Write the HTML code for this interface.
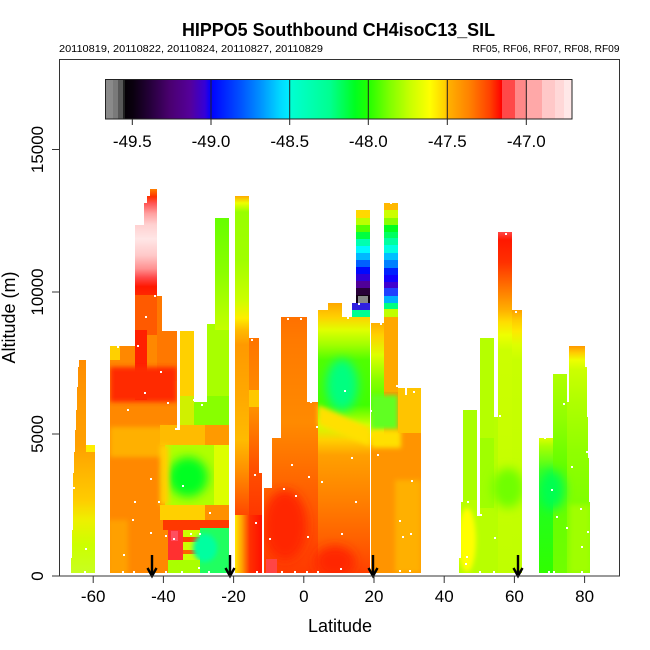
<!DOCTYPE html>
<html><head><meta charset="utf-8"><style>
html,body{margin:0;padding:0;background:#fff;}
svg{display:block;}
text{font-family:"Liberation Sans",Arial,sans-serif;fill:#000;}
</style></head><body>
<svg width="650" height="650" viewBox="0 0 650 650" xmlns="http://www.w3.org/2000/svg">
<defs>
<filter id="bl" x="-50%" y="-50%" width="200%" height="200%"><feGaussianBlur stdDeviation="5"/></filter>
<filter id="bs" x="-50%" y="-50%" width="200%" height="200%"><feGaussianBlur stdDeviation="2.5"/></filter>

<linearGradient id="cb" gradientUnits="userSpaceOnUse" x1="105" y1="0" x2="572" y2="0">
<stop offset="0" stop-color="#8a8a8a"/><stop offset=".0171" stop-color="#8a8a8a"/>
<stop offset=".0171" stop-color="#7a7a7a"/><stop offset=".0278" stop-color="#7a7a7a"/>
<stop offset=".0278" stop-color="#585858"/><stop offset=".0385" stop-color="#585858"/>
<stop offset=".0385" stop-color="#202020"/><stop offset=".0428" stop-color="#202020"/>
<stop offset=".0428" stop-color="#050005"/><stop offset=".0600" stop-color="#0a000f"/>
<stop offset=".0964" stop-color="#25003a"/><stop offset=".1392" stop-color="#4a0070"/>
<stop offset=".1820" stop-color="#55009a"/><stop offset=".2141" stop-color="#3500d8"/>
<stop offset=".2270" stop-color="#0000ff"/><stop offset=".2891" stop-color="#0050ff"/>
<stop offset=".3319" stop-color="#0090ff"/><stop offset=".3747" stop-color="#00d8ff"/>
<stop offset=".3955" stop-color="#00eeff"/><stop offset=".3955" stop-color="#00ffd4"/>
<stop offset=".4818" stop-color="#00ff90"/><stop offset=".5353" stop-color="#00ff20"/>
<stop offset=".5632" stop-color="#20ff00"/><stop offset=".6103" stop-color="#80ff00"/>
<stop offset=".6531" stop-color="#c8ff00"/><stop offset=".6959" stop-color="#ffff00"/>
<stop offset=".7281" stop-color="#ffd000"/><stop offset=".7323" stop-color="#ffb400"/>
<stop offset=".7816" stop-color="#ff8000"/><stop offset=".8244" stop-color="#ff4000"/>
<stop offset=".8501" stop-color="#ff0000"/><stop offset=".8501" stop-color="#ff4848"/>
<stop offset=".8779" stop-color="#ff4848"/><stop offset=".8779" stop-color="#ff8888"/>
<stop offset=".9036" stop-color="#ff8888"/><stop offset=".9036" stop-color="#ffa8a8"/>
<stop offset=".9358" stop-color="#ffa8a8"/><stop offset=".9358" stop-color="#ffc8c8"/>
<stop offset=".9636" stop-color="#ffc8c8"/><stop offset=".9636" stop-color="#ffd8d8"/>
<stop offset=".9829" stop-color="#ffd8d8"/><stop offset=".9829" stop-color="#ffe8e8"/>
<stop offset="1" stop-color="#ffe8e8"/>
</linearGradient>

<linearGradient id="g1" gradientUnits="userSpaceOnUse" x1="0" y1="360" x2="0" y2="573">
<stop offset="0" stop-color="#ff8c00"/><stop offset=".188" stop-color="#ff9800"/>
<stop offset=".399" stop-color="#ffa000"/><stop offset=".516" stop-color="#ffb400"/>
<stop offset=".657" stop-color="#ffcc00"/><stop offset=".751" stop-color="#eef000"/>
<stop offset=".869" stop-color="#ccff00"/><stop offset="1" stop-color="#c8ff20"/>
</linearGradient>

<linearGradient id="gPink" gradientUnits="userSpaceOnUse" x1="0" y1="189" x2="0" y2="300">
<stop offset="0" stop-color="#ff8000"/><stop offset=".07" stop-color="#ff3000"/>
<stop offset=".13" stop-color="#ff5555"/><stop offset=".22" stop-color="#ff9f9f"/>
<stop offset=".32" stop-color="#ffd0d0"/><stop offset=".45" stop-color="#ffe6e6"/>
<stop offset=".6" stop-color="#ffc8c8"/><stop offset=".72" stop-color="#ff9090"/>
<stop offset=".8" stop-color="#ff4848"/><stop offset=".88" stop-color="#ff1800"/>
<stop offset="1" stop-color="#ff3000"/>
</linearGradient>

<linearGradient id="gG2" gradientUnits="userSpaceOnUse" x1="0" y1="218" x2="0" y2="330">
<stop offset="0" stop-color="#66ff00"/><stop offset=".5" stop-color="#8cff00"/><stop offset="1" stop-color="#c4ff00"/>
</linearGradient>

<linearGradient id="g3a" gradientUnits="userSpaceOnUse" x1="0" y1="196" x2="0" y2="573">
<stop offset="0" stop-color="#ffaa00"/><stop offset=".0186" stop-color="#eeff00"/>
<stop offset=".0424" stop-color="#99ff00"/><stop offset=".17" stop-color="#a0ff00"/>
<stop offset=".276" stop-color="#ccff00"/><stop offset=".324" stop-color="#ffee00"/>
<stop offset=".355" stop-color="#ffbb00"/><stop offset=".395" stop-color="#ff9900"/>
<stop offset=".541" stop-color="#ffaa00"/><stop offset=".647" stop-color="#ffbb00"/>
<stop offset=".727" stop-color="#ff9000"/><stop offset=".806" stop-color="#ff6000"/>
<stop offset=".859" stop-color="#ff4000"/><stop offset="1" stop-color="#ff3000"/>
</linearGradient>
<linearGradient id="g3b" gradientUnits="userSpaceOnUse" x1="0" y1="338" x2="0" y2="573">
<stop offset="0" stop-color="#ff7400"/><stop offset=".3" stop-color="#ff9000"/><stop offset=".55" stop-color="#ff5000"/><stop offset="1" stop-color="#ff1800"/>
</linearGradient>
<linearGradient id="g3c" gradientUnits="userSpaceOnUse" x1="235" y1="0" x2="262" y2="0">
<stop offset="0" stop-color="#ffe800"/><stop offset=".26" stop-color="#ffa000"/><stop offset=".55" stop-color="#ff3000"/><stop offset="1" stop-color="#ff1000"/>
</linearGradient>

<linearGradient id="g4a" gradientUnits="userSpaceOnUse" x1="0" y1="300" x2="0" y2="573">
<stop offset="0" stop-color="#ff6a00"/><stop offset=".15" stop-color="#ff7a00"/>
<stop offset=".45" stop-color="#ff8a00"/><stop offset=".7" stop-color="#ff6000"/>
<stop offset="1" stop-color="#ff3a00"/>
</linearGradient>
<linearGradient id="g4b" gradientUnits="userSpaceOnUse" x1="0" y1="303" x2="0" y2="573">
<stop offset="0" stop-color="#ffa800"/><stop offset=".052" stop-color="#ffd000"/>
<stop offset=".1" stop-color="#e0ff00"/><stop offset=".156" stop-color="#a0ff00"/>
<stop offset=".211" stop-color="#50ff00"/><stop offset=".378" stop-color="#40ff00"/>
<stop offset=".452" stop-color="#ccff00"/><stop offset=".507" stop-color="#ffd000"/>
<stop offset=".563" stop-color="#ffa000"/><stop offset=".73" stop-color="#ff8000"/>
<stop offset=".878" stop-color="#ff6000"/><stop offset="1" stop-color="#ff4000"/>
</linearGradient>

<linearGradient id="g5a" gradientUnits="userSpaceOnUse" x1="0" y1="323" x2="0" y2="445">
<stop offset="0" stop-color="#ffb000"/><stop offset=".098" stop-color="#ffd000"/>
<stop offset=".262" stop-color="#ddff00"/><stop offset=".467" stop-color="#88ff00"/>
<stop offset=".672" stop-color="#50ff00"/><stop offset=".836" stop-color="#b0ff00"/>
<stop offset=".918" stop-color="#ffe800"/><stop offset="1" stop-color="#ffb000"/>
</linearGradient>

<linearGradient id="g6a" gradientUnits="userSpaceOnUse" x1="0" y1="232" x2="0" y2="573">
<stop offset="0" stop-color="#ff4848"/><stop offset=".023" stop-color="#ff1800"/>
<stop offset=".088" stop-color="#ff3000"/><stop offset=".141" stop-color="#ff6000"/>
<stop offset=".194" stop-color="#ff9000"/><stop offset=".229" stop-color="#ffb000"/>
<stop offset=".264" stop-color="#ffdd00"/><stop offset=".302" stop-color="#eeff00"/>
<stop offset=".346" stop-color="#ccff00"/><stop offset="1" stop-color="#c0ff00"/>
</linearGradient>
<linearGradient id="g6b" gradientUnits="userSpaceOnUse" x1="0" y1="310" x2="0" y2="573">
<stop offset="0" stop-color="#ffa000"/><stop offset=".04" stop-color="#ffcc00"/>
<stop offset=".08" stop-color="#ffe800"/><stop offset=".133" stop-color="#ddff00"/>
<stop offset=".19" stop-color="#c8ff00"/><stop offset="1" stop-color="#c0ff00"/>
</linearGradient>

<linearGradient id="g7a" gradientUnits="userSpaceOnUse" x1="0" y1="346" x2="0" y2="573">
<stop offset="0" stop-color="#ff9900"/><stop offset=".03" stop-color="#ffcc00"/>
<stop offset=".062" stop-color="#eeff00"/><stop offset=".106" stop-color="#ccff00"/>
<stop offset=".24" stop-color="#b0ff00"/><stop offset=".46" stop-color="#90ff00"/>
<stop offset=".68" stop-color="#80ff00"/><stop offset="1" stop-color="#8cff00"/>
</linearGradient>
<linearGradient id="g7b" gradientUnits="userSpaceOnUse" x1="0" y1="374" x2="0" y2="573">
<stop offset="0" stop-color="#b0ff00"/><stop offset=".23" stop-color="#90ff00"/><stop offset=".48" stop-color="#60ff00"/><stop offset="1" stop-color="#70ff00"/>
</linearGradient>
<linearGradient id="g7c" gradientUnits="userSpaceOnUse" x1="0" y1="438" x2="0" y2="573">
<stop offset="0" stop-color="#ddff00"/><stop offset=".06" stop-color="#aaff00"/><stop offset=".24" stop-color="#40ff20"/><stop offset=".46" stop-color="#20ff20"/><stop offset="1" stop-color="#30ff00"/>
</linearGradient>

<clipPath id="c1"><polygon points="79,360 86,360 86,445 95,445 95,573 71,573 71,558 72,558 72,530 73,530 73,473 74,473 74,452 75,452 75,430 76,430 76,410 77,410 77,387 78,387 78,367 79,367"/></clipPath>
<clipPath id="c2">
<rect x="110" y="346" width="25" height="227"/>
<rect x="135" y="225" width="9" height="348"/>
<rect x="144" y="203" width="3" height="370"/>
<rect x="147" y="196" width="3" height="377"/>
<rect x="150" y="189" width="7" height="384"/>
<rect x="157" y="296" width="5" height="277"/>
<rect x="162" y="331" width="15" height="242"/>
<rect x="177" y="430" width="3" height="143"/>
<rect x="180" y="331" width="14" height="242"/>
<rect x="194" y="402" width="13" height="171"/>
<rect x="207" y="324" width="8" height="249"/>
<rect x="215" y="218" width="14" height="355"/>
</clipPath>
<clipPath id="c3">
<rect x="235" y="196" width="14" height="377"/>
<rect x="249" y="338" width="10" height="235"/>
<rect x="259" y="473" width="3" height="100"/>
</clipPath>
<clipPath id="c4">
<rect x="264" y="488" width="8" height="85"/>
<rect x="272" y="438" width="9" height="135"/>
<rect x="281" y="317" width="26" height="256"/>
<rect x="307" y="402" width="11" height="171"/>
<rect x="318" y="310" width="10" height="263"/>
<rect x="328" y="303" width="14" height="270"/>
<rect x="342" y="317" width="10" height="256"/>
<rect x="352" y="303" width="4" height="270"/>
<rect x="356" y="210" width="14" height="363"/>
</clipPath>
<clipPath id="c5">
<rect x="371" y="323" width="13" height="250"/>
<rect x="384" y="203" width="14" height="370"/>
<rect x="398" y="388" width="7" height="185"/>
<rect x="405" y="395" width="2" height="178"/>
<rect x="407" y="388" width="14" height="185"/>
</clipPath>
<clipPath id="c6">
<rect x="463" y="410" width="14" height="163"/>
<rect x="461" y="502" width="2" height="71"/>
<rect x="459" y="558" width="2" height="15"/>
<rect x="477" y="516" width="3" height="57"/>
<rect x="480" y="338" width="14" height="235"/>
<rect x="494" y="417" width="4" height="156"/>
<rect x="498" y="232" width="14" height="341"/>
<rect x="512" y="310" width="10" height="263"/>
</clipPath>
<clipPath id="c7">
<rect x="539" y="438" width="14" height="135"/>
<rect x="553" y="374" width="14" height="199"/>
<rect x="567" y="402" width="2" height="171"/>
<rect x="569" y="346" width="16" height="227"/>
<rect x="585" y="367" width="2" height="206"/>
<rect x="587" y="417" width="1" height="156"/>
<rect x="588" y="458" width="1" height="115"/>
<rect x="589" y="502" width="1" height="71"/>
</clipPath>
</defs>

<rect width="650" height="650" fill="#fff"/>

<!-- Group 1 -->
<g clip-path="url(#c1)">
<rect x="70" y="355" width="30" height="220" fill="url(#g1)"/>
<rect x="86" y="445" width="9" height="7" fill="#ffee00"/>
</g>

<!-- Group 2 -->
<g clip-path="url(#c2)">
<rect x="105" y="185" width="130" height="390" fill="#ff8800"/>
<rect x="135" y="189" width="22" height="111" fill="url(#gPink)"/>
<rect x="135" y="295" width="22" height="40" fill="#ff5a00"/>
<rect x="135" y="330" width="12" height="70" fill="#ff2000"/>
<rect x="157" y="296" width="20" height="85" fill="#ff7800"/>
<rect x="110" y="346" width="10" height="14" fill="#ffd000"/>
<rect x="110" y="367" width="67" height="35" fill="#ff2a00" filter="url(#bs)"/>
<rect x="110" y="427" width="58" height="30" fill="#ffb000" filter="url(#bs)"/>
<rect x="108" y="520" width="20" height="55" fill="#ffa000" filter="url(#bs)"/>
<rect x="180" y="331" width="14" height="65" fill="#ffd000"/>
<rect x="194" y="324" width="35" height="75" fill="#a8ff00"/>
<rect x="215" y="218" width="14" height="112" fill="url(#gG2)"/>
<rect x="180" y="396" width="49" height="30" fill="#88ff00"/>
<rect x="177" y="396" width="17" height="30" fill="#d0f000"/>
<rect x="160" y="425" width="69" height="20" fill="#ffbb00"/>
<rect x="205" y="425" width="24" height="20" fill="#ff9a00"/>
<rect x="165" y="445" width="64" height="60" fill="#b0ff00"/>
<ellipse cx="188" cy="477" rx="20" ry="20" fill="#00ff20" filter="url(#bl)"/>
<rect x="160" y="445" width="9" height="60" fill="#ffd000" filter="url(#bs)"/>
<rect x="214" y="445" width="15" height="60" fill="#ddff00"/>
<rect x="160" y="505" width="69" height="15" fill="#ffd000"/>
<rect x="205" y="505" width="24" height="15" fill="#ff9000"/>
<rect x="163" y="520" width="66" height="10" fill="#ff3800"/>
<rect x="168" y="530" width="15" height="30" fill="#ff3030"/>
<rect x="171" y="531" width="7" height="10" fill="#ff4f5f"/>
<rect x="183" y="530" width="17" height="30" fill="#ccff00"/>
<rect x="183" y="537" width="17" height="5" fill="#ff4000"/>
<rect x="183" y="550" width="17" height="4" fill="#ff6000"/>
<rect x="200" y="528" width="29" height="45" fill="#20ff60"/>
<ellipse cx="205" cy="548" rx="12" ry="14" fill="#00ffa0" filter="url(#bs)"/>
<rect x="168" y="560" width="32" height="13" fill="#aaff00"/>
</g>

<!-- Group 3 -->
<g clip-path="url(#c3)">
<rect x="235" y="196" width="14" height="377" fill="url(#g3a)"/>
<rect x="249" y="338" width="13" height="235" fill="url(#g3b)"/>
<rect x="235" y="515" width="27" height="58" fill="url(#g3c)"/>
<rect x="249" y="390" width="10" height="17" fill="#ffc800"/>
</g>

<!-- Group 4 -->
<g clip-path="url(#c4)">
<rect x="262" y="300" width="60" height="275" fill="url(#g4a)"/>
<ellipse cx="285" cy="525" rx="22" ry="35" fill="#ff2800" filter="url(#bl)"/>
<rect x="266" y="559" width="11" height="14" fill="#ff4545"/>
<rect x="318" y="303" width="52" height="270" fill="url(#g4b)"/>
<ellipse cx="342" cy="385" rx="16" ry="26" fill="#00ff80" filter="url(#bl)"/>
<polygon points="318,405 370,428 370,446 318,425" fill="#ffe000" filter="url(#bs)"/>
<ellipse cx="335" cy="562" rx="20" ry="16" fill="#ff2800" filter="url(#bl)"/>
<!-- blue column 1 -->
<rect x="356" y="210" width="14" height="8" fill="#ffd800"/>
<rect x="356" y="218" width="14" height="7" fill="#bbff00"/>
<rect x="356" y="225" width="14" height="7" fill="#55ff00"/>
<rect x="356" y="232" width="14" height="7" fill="#00ff40"/>
<rect x="356" y="239" width="14" height="7" fill="#00ffb0"/>
<rect x="356" y="246" width="14" height="7" fill="#00f8ff"/>
<rect x="356" y="253" width="14" height="7" fill="#00b8ff"/>
<rect x="356" y="260" width="14" height="7" fill="#0060ff"/>
<rect x="356" y="267" width="14" height="7" fill="#0008ff"/>
<rect x="356" y="274" width="14" height="7" fill="#3000d8"/>
<rect x="356" y="281" width="14" height="7" fill="#500098"/>
<rect x="356" y="288" width="14" height="7" fill="#280038"/>
<rect x="356" y="295" width="14" height="8" fill="#100010"/>
<rect x="358" y="296" width="10" height="7" fill="#888888"/>
<rect x="352" y="303" width="18" height="7" fill="#3020e0"/>
<rect x="352" y="310" width="18" height="7" fill="#00ff90"/>
</g>

<!-- Group 5 -->
<g clip-path="url(#c5)">
<rect x="370" y="200" width="55" height="375" fill="#ff9400"/>
<rect x="371" y="323" width="13" height="122" fill="url(#g5a)"/>
<rect x="384" y="317" width="14" height="75" fill="#ffa800"/>
<rect x="371" y="395" width="27" height="35" fill="#60ff20" filter="url(#bs)"/>
<rect x="371" y="430" width="30" height="18" fill="#ffe000" filter="url(#bs)"/>
<rect x="398" y="388" width="23" height="45" fill="#ffc400"/>
<rect x="395" y="480" width="26" height="93" fill="#ffb000" filter="url(#bs)"/>
<rect x="384" y="203" width="14" height="7" fill="#ffb800"/>
<rect x="384" y="210" width="14" height="8" fill="#ccff00"/>
<rect x="384" y="218" width="14" height="7" fill="#88ff00"/>
<rect x="384" y="225" width="14" height="7" fill="#00ff20"/>
<rect x="384" y="232" width="14" height="6" fill="#00ff60"/>
<rect x="384" y="238" width="14" height="7" fill="#00ffa0"/>
<rect x="384" y="245" width="14" height="8" fill="#00ffe0"/>
<rect x="384" y="253" width="14" height="7" fill="#00c0ff"/>
<rect x="384" y="260" width="14" height="8" fill="#0080ff"/>
<rect x="384" y="268" width="14" height="7" fill="#0020ff"/>
<rect x="384" y="275" width="14" height="7" fill="#1000ff"/>
<rect x="384" y="282" width="14" height="6" fill="#4000d0"/>
<rect x="384" y="288" width="14" height="8" fill="#2040ff"/>
<rect x="384" y="296" width="14" height="7" fill="#00b0ff"/>
<rect x="384" y="303" width="14" height="6" fill="#00ff80"/>
<rect x="384" y="309" width="14" height="8" fill="#c0ff00"/>
</g>

<!-- Group 6 -->
<g clip-path="url(#c6)">
<rect x="455" y="230" width="70" height="345" fill="#b8ff00"/>
<rect x="498" y="232" width="14" height="341" fill="url(#g6a)"/>
<rect x="512" y="310" width="10" height="263" fill="url(#g6b)"/>
<rect x="480" y="338" width="14" height="100" fill="#b5ff00"/>
<rect x="480" y="438" width="14" height="70" fill="#a0ff00"/>
<rect x="463" y="410" width="14" height="90" fill="#a8ff00"/>
<ellipse cx="508" cy="488" rx="16" ry="20" fill="#70ff00" filter="url(#bl)"/>
<ellipse cx="467" cy="540" rx="9" ry="32" fill="#ffff00" filter="url(#bs)"/>
</g>

<!-- Group 7 -->
<g clip-path="url(#c7)">
<rect x="535" y="340" width="60" height="235" fill="#80ff00"/>
<rect x="567" y="346" width="24" height="227" fill="url(#g7a)"/>
<rect x="553" y="374" width="14" height="199" fill="url(#g7b)"/>
<rect x="539" y="438" width="14" height="135" fill="url(#g7c)"/>
<ellipse cx="552" cy="490" rx="13" ry="20" fill="#00ff50" filter="url(#bl)"/>
<rect x="570" y="505" width="20" height="68" fill="#a0ff00" filter="url(#bs)"/>
</g>

<!-- white dots -->
<g fill="#fff">
<rect x="154" y="295" width="2" height="2"/><rect x="145" y="316" width="2" height="2"/><rect x="137" y="345" width="2" height="2"/>
<rect x="117" y="346" width="2" height="2"/><rect x="160" y="371" width="2" height="2"/><rect x="144" y="392" width="2" height="2"/>
<rect x="167" y="402" width="2" height="2"/><rect x="127" y="409" width="2" height="2"/><rect x="175" y="428" width="2" height="2"/>
<rect x="201" y="404" width="2" height="2"/><rect x="193" y="399" width="2" height="2"/><rect x="251" y="339" width="2" height="2"/>
<rect x="287" y="318" width="2" height="2"/><rect x="300" y="318" width="2" height="2"/><rect x="310" y="401" width="2" height="2"/>
<rect x="316" y="426" width="2" height="2"/><rect x="291" y="464" width="2" height="2"/><rect x="308" y="476" width="2" height="2"/>
<rect x="321" y="481" width="2" height="2"/><rect x="283" y="488" width="2" height="2"/><rect x="295" y="495" width="2" height="2"/>
<rect x="254" y="474" width="2" height="2"/><rect x="150" y="478" width="2" height="2"/><rect x="182" y="485" width="2" height="2"/>
<rect x="158" y="501" width="2" height="2"/><rect x="134" y="501" width="2" height="2"/><rect x="209" y="512" width="2" height="2"/>
<rect x="132" y="519" width="2" height="2"/><rect x="255" y="522" width="2" height="2"/><rect x="150" y="532" width="2" height="2"/>
<rect x="165" y="535" width="2" height="2"/><rect x="173" y="538" width="2" height="2"/><rect x="190" y="533" width="2" height="2"/>
<rect x="199" y="533" width="2" height="2"/><rect x="269" y="538" width="2" height="2"/><rect x="307" y="536" width="2" height="2"/>
<rect x="123" y="554" width="2" height="2"/><rect x="85" y="548" width="2" height="2"/><rect x="73" y="487" width="2" height="2"/>
<rect x="198" y="567" width="2" height="2"/><rect x="181" y="571" width="2" height="2"/><rect x="122" y="571" width="2" height="2"/>
<rect x="84" y="571" width="2" height="2"/><rect x="256" y="571" width="2" height="2"/><rect x="281" y="571" width="2" height="2"/>
<rect x="294" y="571" width="2" height="2"/><rect x="306" y="571" width="2" height="2"/><rect x="317" y="571" width="2" height="2"/>
<rect x="208" y="571" width="2" height="2"/><rect x="165" y="571" width="2" height="2"/><rect x="133" y="571" width="2" height="2"/>
<rect x="390" y="202" width="2" height="2"/><rect x="358" y="303" width="2" height="2"/><rect x="347" y="317" width="2" height="2"/>
<rect x="380" y="323" width="2" height="2"/><rect x="396" y="385" width="2" height="2"/><rect x="413" y="391" width="2" height="2"/>
<rect x="344" y="390" width="2" height="2"/><rect x="370" y="410" width="2" height="2"/><rect x="351" y="457" width="2" height="2"/>
<rect x="377" y="454" width="2" height="2"/><rect x="321" y="481" width="2" height="2"/><rect x="411" y="480" width="2" height="2"/>
<rect x="355" y="501" width="2" height="2"/><rect x="399" y="520" width="2" height="2"/><rect x="410" y="533" width="2" height="2"/>
<rect x="402" y="536" width="2" height="2"/><rect x="341" y="533" width="2" height="2"/><rect x="340" y="568" width="2" height="2"/>
<rect x="399" y="570" width="2" height="2"/><rect x="409" y="570" width="2" height="2"/>
<rect x="505" y="233" width="2" height="2"/><rect x="515" y="311" width="2" height="2"/><rect x="499" y="415" width="2" height="2"/>
<rect x="467" y="501" width="2" height="2"/><rect x="480" y="514" width="2" height="2"/><rect x="494" y="537" width="2" height="2"/>
<rect x="466" y="556" width="2" height="2"/><rect x="465" y="563" width="2" height="2"/><rect x="563" y="403" width="2" height="2"/>
<rect x="586" y="451" width="2" height="2"/><rect x="571" y="466" width="2" height="2"/><rect x="551" y="489" width="2" height="2"/>
<rect x="580" y="508" width="2" height="2"/><rect x="556" y="516" width="2" height="2"/><rect x="566" y="527" width="2" height="2"/>
<rect x="587" y="531" width="2" height="2"/><rect x="581" y="546" width="2" height="2"/><rect x="479" y="571" width="2" height="2"/>
<rect x="493" y="571" width="2" height="2"/><rect x="548" y="571" width="2" height="2"/><rect x="553" y="571" width="2" height="2"/>
<rect x="581" y="571" width="2" height="2"/><rect x="544" y="437" width="2" height="2"/>
</g>

<!-- arrows -->
<g stroke="#000" stroke-width="2.4" fill="none" stroke-linecap="butt">
<line x1="152" y1="555" x2="152" y2="576"/><polyline points="147.5,568 152,576 156.5,568"/>
<line x1="230" y1="555" x2="230" y2="576"/><polyline points="225.5,568 230,576 234.5,568"/>
<line x1="373" y1="555" x2="373" y2="576"/><polyline points="368.5,568 373,576 377.5,568"/>
<line x1="518" y1="555" x2="518" y2="576"/><polyline points="513.5,568 518,576 522.5,568"/>
</g>

<!-- colorbar -->
<rect x="105" y="79" width="467" height="40" fill="url(#cb)"/>
<g stroke="#222" stroke-width="1">
<line x1="211" y1="79" x2="211" y2="119"/>
<line x1="289.7" y1="79" x2="289.7" y2="119"/>
<line x1="368.3" y1="79" x2="368.3" y2="119"/>
<line x1="447.3" y1="79" x2="447.3" y2="119"/>
<line x1="526.3" y1="79" x2="526.3" y2="119"/>
<line x1="132.3" y1="119" x2="132.3" y2="125"/>
<line x1="211" y1="119" x2="211" y2="125"/>
<line x1="289.7" y1="119" x2="289.7" y2="125"/>
<line x1="368.3" y1="119" x2="368.3" y2="125"/>
<line x1="447.3" y1="119" x2="447.3" y2="125"/>
<line x1="526.3" y1="119" x2="526.3" y2="125"/>
</g>
<rect x="105.5" y="79.5" width="466.5" height="39.5" fill="none" stroke="#222" stroke-width="1"/>
<g font-size="17" text-anchor="middle">
<text x="132.3" y="147">-49.5</text>
<text x="211" y="147">-49.0</text>
<text x="289.7" y="147">-48.5</text>
<text x="368.3" y="147">-48.0</text>
<text x="447.3" y="147">-47.5</text>
<text x="526.3" y="147">-47.0</text>
</g>

<!-- axes box -->
<rect x="59.5" y="59.5" width="560" height="516.5" fill="none" stroke="#333" stroke-width="1"/>
<g stroke="#333" stroke-width="1">
<line x1="52" y1="576" x2="59" y2="576"/>
<line x1="52" y1="434" x2="59" y2="434"/>
<line x1="52" y1="292" x2="59" y2="292"/>
<line x1="52" y1="149.5" x2="59" y2="149.5"/>
<line x1="93.2" y1="576" x2="93.2" y2="583"/>
<line x1="163.4" y1="576" x2="163.4" y2="583"/>
<line x1="233.6" y1="576" x2="233.6" y2="583"/>
<line x1="303.8" y1="576" x2="303.8" y2="583"/>
<line x1="374" y1="576" x2="374" y2="583"/>
<line x1="444.2" y1="576" x2="444.2" y2="583"/>
<line x1="514.4" y1="576" x2="514.4" y2="583"/>
<line x1="584.6" y1="576" x2="584.6" y2="583"/>
</g>
<g font-size="17" text-anchor="middle">
<text x="93.2" y="602">-60</text>
<text x="163.4" y="602">-40</text>
<text x="233.6" y="602">-20</text>
<text x="303.8" y="602">0</text>
<text x="374" y="602">20</text>
<text x="444.2" y="602">40</text>
<text x="514.4" y="602">60</text>
<text x="584.6" y="602">80</text>
<text transform="translate(43,576) rotate(-90)">0</text>
<text transform="translate(43,434) rotate(-90)">5000</text>
<text transform="translate(43,292) rotate(-90)">10000</text>
<text transform="translate(43,149.5) rotate(-90)">15000</text>
</g>
<text x="340" y="632" font-size="18" text-anchor="middle">Latitude</text>
<text transform="translate(15,317.5) rotate(-90)" font-size="18" text-anchor="middle">Altitude (m)</text>

<text x="182" y="36" font-size="18" font-weight="bold" textLength="313" lengthAdjust="spacingAndGlyphs">HIPPO5 Southbound CH4isoC13_SIL</text>
<text x="59" y="52" font-size="10" textLength="264" lengthAdjust="spacingAndGlyphs">20110819, 20110822, 20110824, 20110827, 20110829</text>
<text x="472.5" y="52" font-size="10" textLength="147" lengthAdjust="spacingAndGlyphs">RF05, RF06, RF07, RF08, RF09</text>
</svg>
</body></html>
